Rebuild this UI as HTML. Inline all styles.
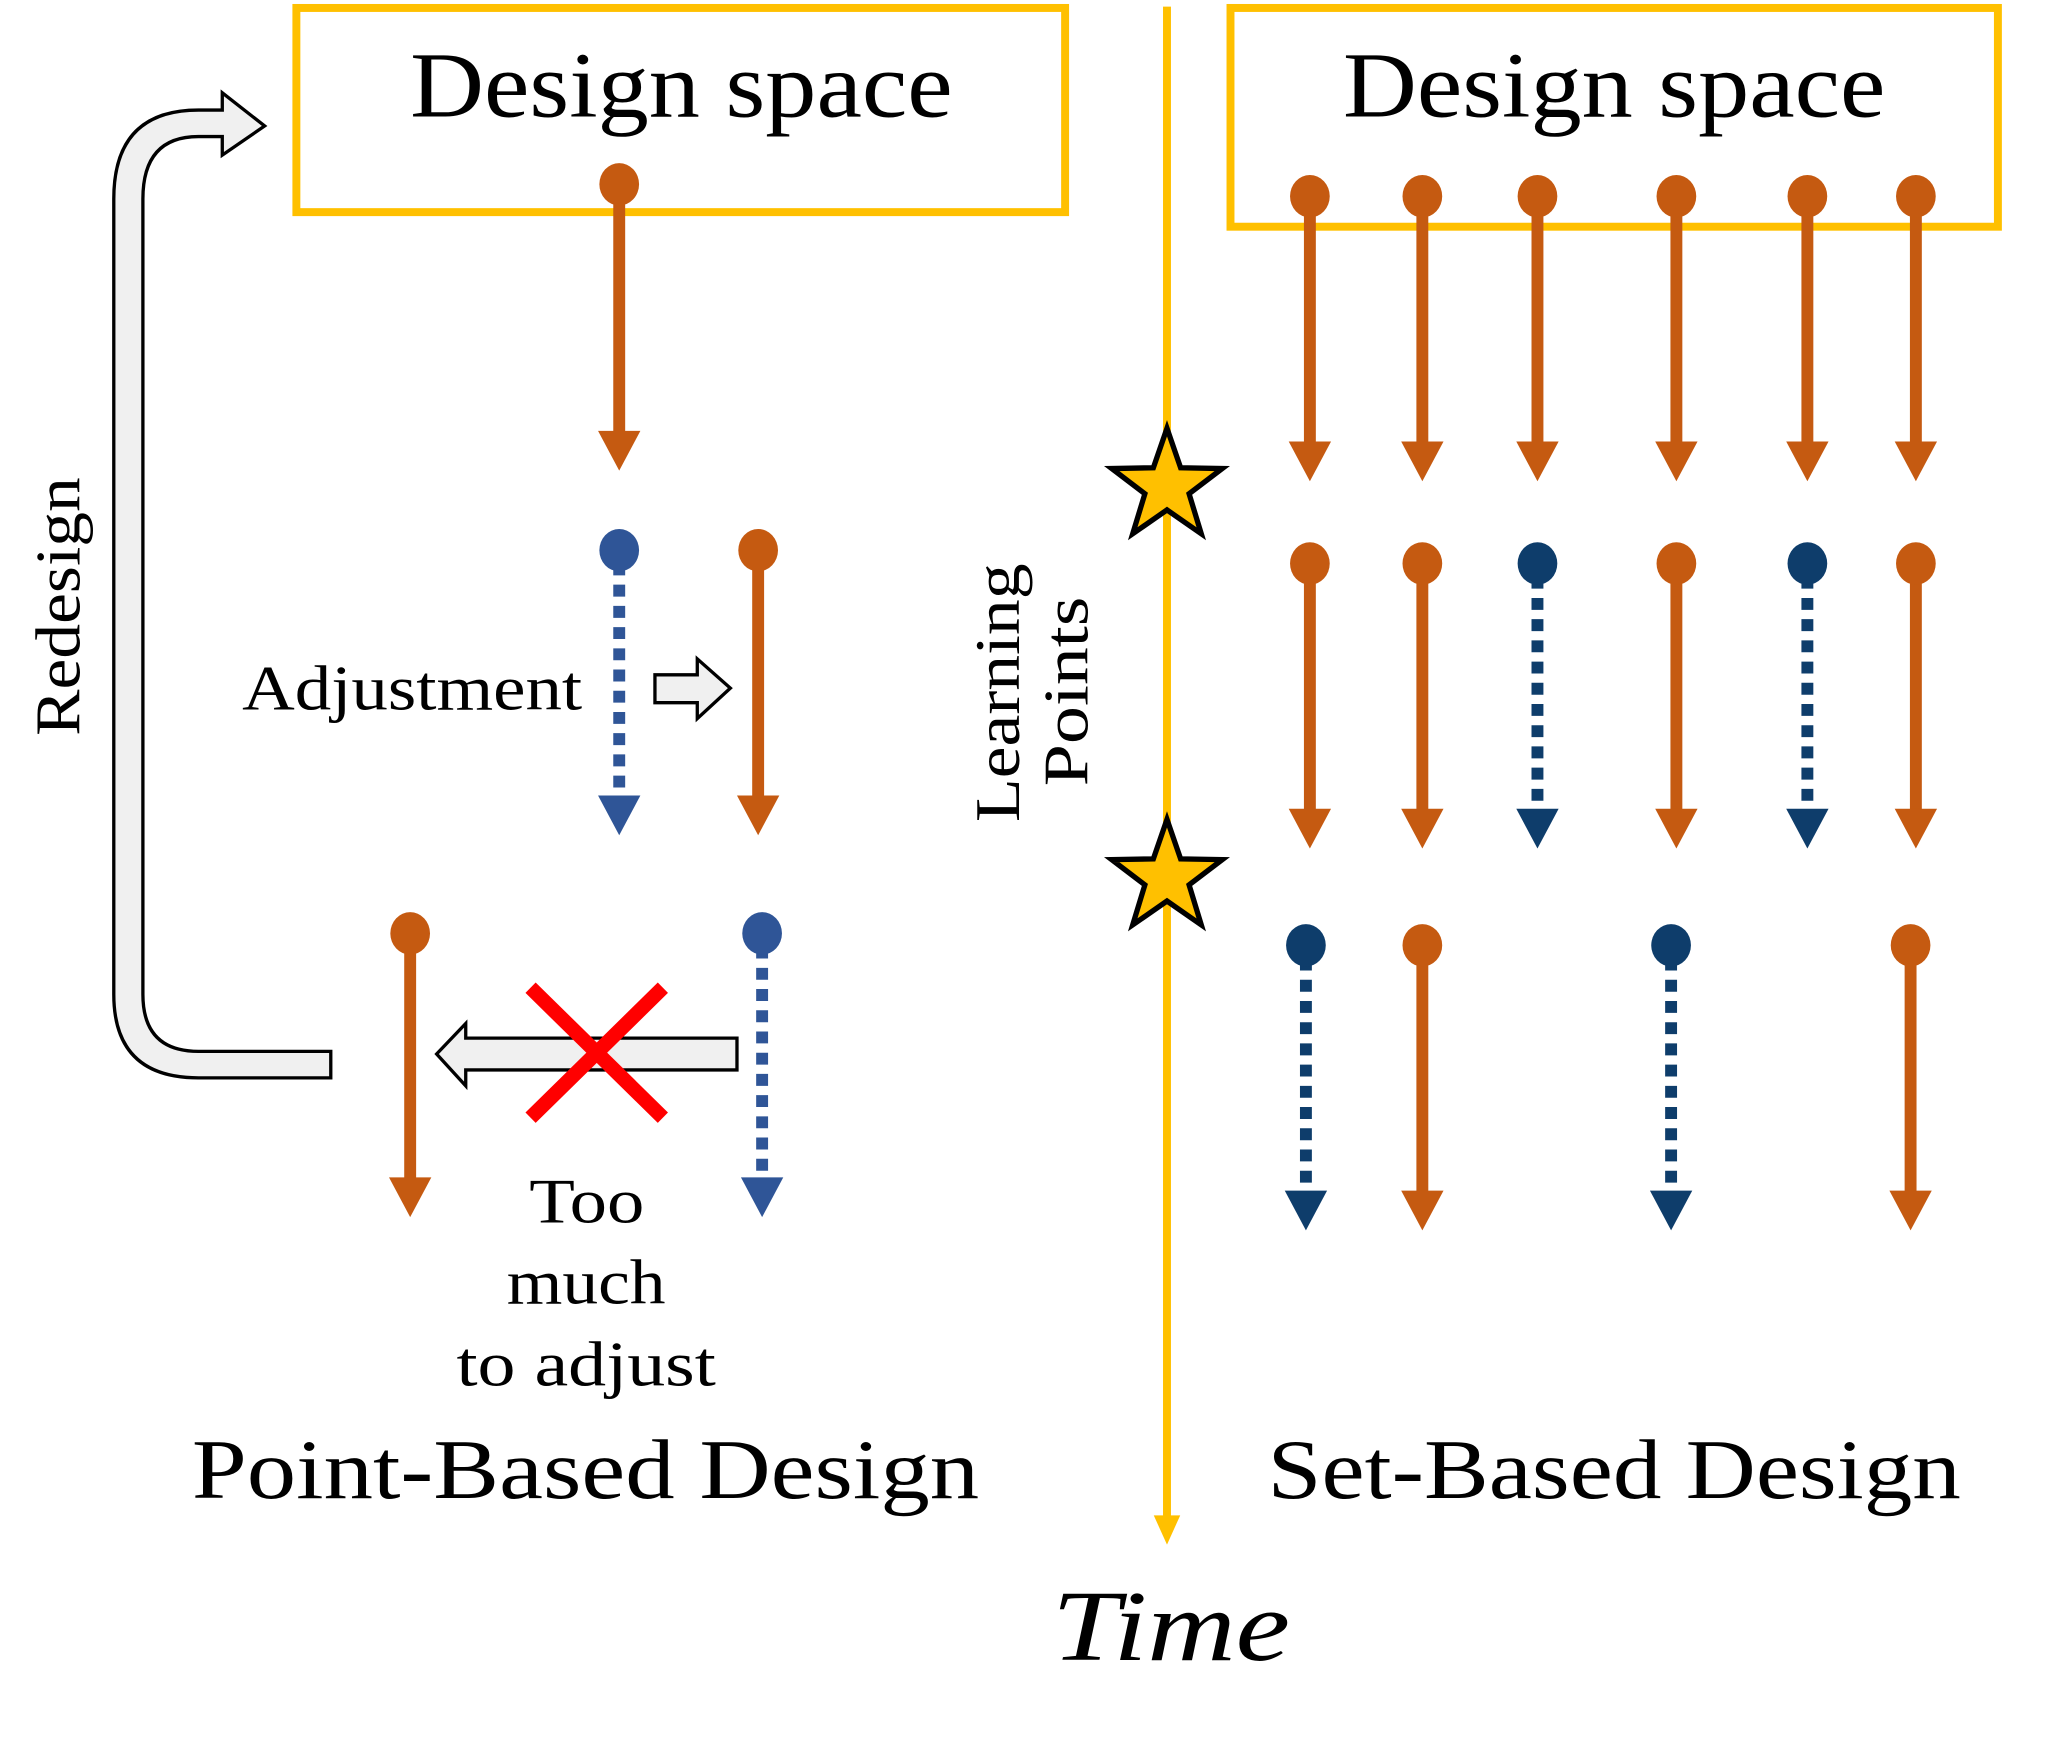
<!DOCTYPE html>
<html><head><meta charset="utf-8"><style>
html,body{margin:0;padding:0;background:#fff;}
svg{display:block;}
text{font-family:"Liberation Serif",serif;fill:#000;}
</style></head><body>
<svg width="2072" height="1762" viewBox="0 0 1566 1329" preserveAspectRatio="none" xmlns="http://www.w3.org/2000/svg">
<defs>
<g id="star"><polygon points="0,-44 10.3,-14.2 41.8,-13.6 16.7,5.4 25.9,35.6 0,17.6 -25.9,35.6 -16.7,5.4 -41.8,-13.6 -10.3,-14.2" fill="#FFC000" stroke="#000" stroke-width="4" stroke-linejoin="miter"/></g>
</defs>
<rect x="224" y="6" width="581" height="154" fill="none" stroke="#FFC000" stroke-width="6"/>
<text x="310" y="88" font-size="70" textLength="410" lengthAdjust="spacingAndGlyphs">Design space</text>
<rect x="930" y="6" width="580" height="165" fill="none" stroke="#FFC000" stroke-width="6"/>
<text x="1015" y="88" font-size="70" textLength="410" lengthAdjust="spacingAndGlyphs">Design space</text>

<g>
<line x1="882" y1="5" x2="882" y2="1145" stroke="#FFC000" stroke-width="6"/>
<polygon points="872,1143 892,1143 882,1165" fill="#FFC000"/>
</g>
<use href="#star" x="882" y="367"/>
<use href="#star" x="882" y="662"/>
<text font-size="48" transform="translate(770,620) rotate(-90)"><tspan x="0" y="0" textLength="195" lengthAdjust="spacingAndGlyphs">Learning</tspan><tspan x="27" y="52" textLength="143" lengthAdjust="spacingAndGlyphs">Points</tspan></text>

<path d="M250,813 L150,813 Q86,813 86,750 L86,150 Q86,83 150,83 L168,83 L168,70 L200,95 L168,117 L168,103 L150,103 Q108,103 108,150 L108,750 Q108,793 150,793 L250,793 Z" fill="#F0F0F0" stroke="#000" stroke-width="2.5"/>
<text font-size="48" transform="translate(60,555) rotate(-90)" textLength="195" lengthAdjust="spacingAndGlyphs">Redesign</text>

<text x="183" y="535" font-size="48" textLength="257" lengthAdjust="spacingAndGlyphs">Adjustment</text>
<polygon points="495,509 527,509 527,497 552,519 527,542 527,530 495,530" fill="#F0F0F0" stroke="#000" stroke-width="2.5"/>
<polygon points="557,783 352,783 352,772 330,795 352,819 352,807 557,807" fill="#F0F0F0" stroke="#000" stroke-width="2.5"/>
<g stroke="#FF0000" stroke-width="11">
<line x1="401" y1="745" x2="501" y2="843"/><line x1="501" y1="745" x2="401" y2="843"/>
</g>
<text font-size="48"><tspan x="400" y="922" textLength="87" lengthAdjust="spacingAndGlyphs">Too</tspan><tspan x="383" y="983" textLength="120" lengthAdjust="spacingAndGlyphs">much</tspan><tspan x="345" y="1045" textLength="196" lengthAdjust="spacingAndGlyphs">to adjust</tspan></text>

<text x="145" y="1130" font-size="64" textLength="595" lengthAdjust="spacingAndGlyphs">Point-Based Design</text>
<text x="958" y="1130" font-size="64" textLength="524" lengthAdjust="spacingAndGlyphs">Set-Based Design</text>
<text x="795" y="1252" font-size="76" font-style="italic" textLength="180" lengthAdjust="spacingAndGlyphs">Time</text>

<g id="arrows"></g>
<script>
const arrowX = [468, 468, 573, 310, 576, 990, 1075, 1162, 1267, 1366, 1448, 990, 1075, 1162, 1267, 1366, 1448, 987, 1075, 1263, 1444];
const arrowY0 = [139, 415, 415, 704, 704, 148, 148, 148, 148, 148, 148, 425, 425, 425, 425, 425, 425, 713, 713, 713, 713];
const arrowY1 = [355, 630, 630, 918, 918, 363, 363, 363, 363, 363, 363, 640, 640, 640, 640, 640, 640, 928, 928, 928, 928];
const arrowKind = ["o","b","o","o","b","o","o","o","o","o","o","o","o","d","o","d","o","d","o","d","o"];
const colors = {o:"#C55A11", b:"#2F5597", d:"#0E3D6B"};
const NS = "http://www.w3.org/2000/svg";
const g = document.getElementById('arrows');
for (let i = 0; i < arrowX.length; i++) {
  const x = arrowX[i], y0 = arrowY0[i], y1 = arrowY1[i], k = arrowKind[i], c = colors[k];
  const grp = document.createElementNS(NS, 'g');
  
  
  const dot = document.createElementNS(NS, 'ellipse');
  dot.setAttribute('cx', x); dot.setAttribute('cy', y0); dot.setAttribute('rx', 15); dot.setAttribute('ry', 16); dot.setAttribute('fill', c);
  const ln = document.createElementNS(NS, 'line');
  ln.setAttribute('x1', x); ln.setAttribute('x2', x); ln.setAttribute('y1', y0 + 10); ln.setAttribute('y2', y1 - 28);
  ln.setAttribute('stroke', c); ln.setAttribute('stroke-width', 9);
  if (k !== 'o') ln.setAttribute('stroke-dasharray', '9,7');
  const hd = document.createElementNS(NS, 'polygon');
  hd.setAttribute('points', (x-16)+','+(y1-30)+' '+(x+16)+','+(y1-30)+' '+x+','+y1);
  hd.setAttribute('fill', c);
  grp.appendChild(ln); grp.appendChild(dot); grp.appendChild(hd);
  g.appendChild(grp);
}
</script>
</svg>
</body></html>
